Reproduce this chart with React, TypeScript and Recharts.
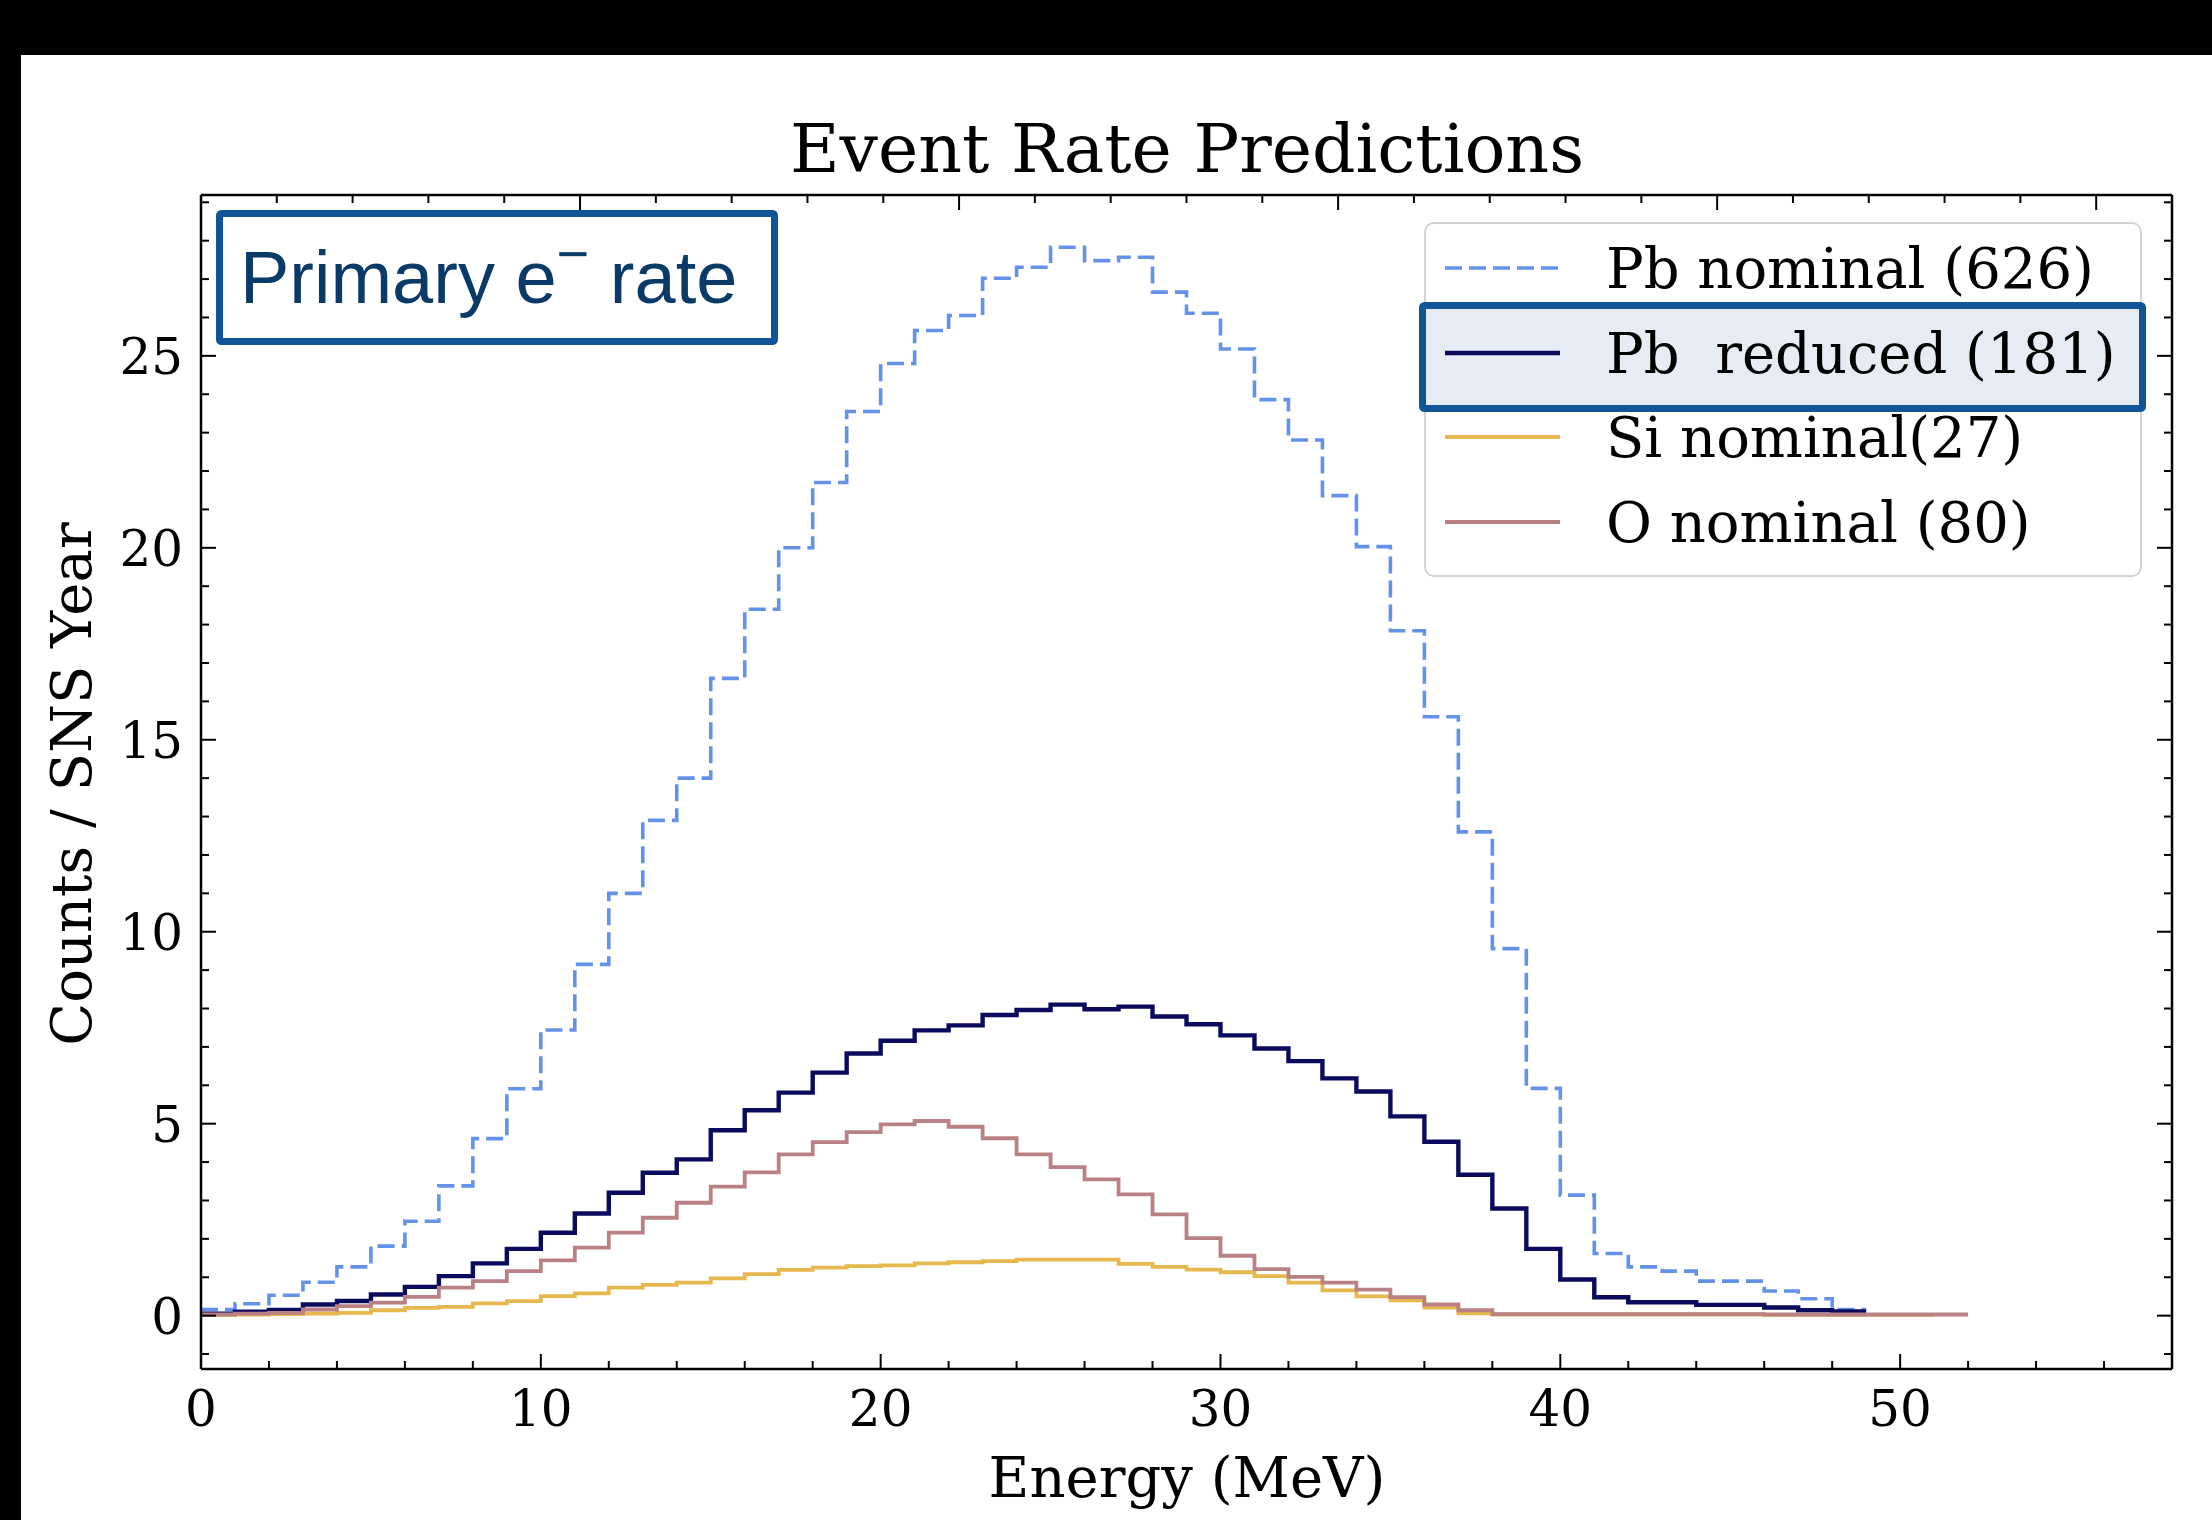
import React from 'react';
import { LineChart, Line, XAxis, YAxis } from 'recharts';

// lower bin edges (MeV), 1 MeV wide bins
const energyEdges = [
  0, 1, 2, 3, 4, 5, 6, 7, 8, 9, 10, 11, 12, 13, 14, 15, 16, 17, 18, 19, 20,
  21, 22, 23, 24, 25, 26, 27, 28, 29, 30, 31, 32, 33, 34, 35, 36, 37, 38, 39,
  40, 41, 42, 43, 44, 45, 46, 47, 48, 49, 50, 51, 52,
];

// counts per bin
const pbNominal = [
  0.16, 0.31, 0.53, 0.87, 1.27, 1.81, 2.46, 3.38, 4.61, 5.91,
  7.44, 9.15, 11.0, 12.9, 14.0, 16.6, 18.4, 20.0, 21.7, 23.55,
  24.8, 25.66, 26.05, 27.02, 27.31, 27.83, 27.48, 27.57, 26.66, 26.11,
  25.18, 23.86, 22.81, 21.36, 20.03, 17.84, 15.6, 12.6, 9.56, 5.92,
  3.14, 1.62, 1.27, 1.16, 0.9, 0.9, 0.64, 0.44, 0.16,
];
const pbReduced = [
  0.05, 0.1, 0.15, 0.29, 0.38, 0.55, 0.75, 1.03, 1.36, 1.74,
  2.16, 2.66, 3.2, 3.72, 4.07, 4.83, 5.35, 5.81, 6.33, 6.83,
  7.16, 7.43, 7.56, 7.83, 7.96, 8.1, 7.98, 8.05, 7.79, 7.59,
  7.3, 6.96, 6.63, 6.18, 5.84, 5.19, 4.53, 3.67, 2.79, 1.74,
  0.94, 0.48, 0.35, 0.35, 0.28, 0.28, 0.21, 0.14, 0.11,
];
const siNominal = [
  0.02, 0.03, 0.04, 0.05, 0.07, 0.14, 0.2, 0.23, 0.32, 0.38,
  0.51, 0.58, 0.73, 0.8, 0.86, 0.97, 1.08, 1.19, 1.25, 1.29,
  1.31, 1.36, 1.39, 1.42, 1.46, 1.46, 1.46, 1.35, 1.27, 1.2,
  1.13, 1.03, 0.86, 0.66, 0.5, 0.4, 0.21, 0.06, 0.03, 0.03,
  0.03, 0.03, 0.03, 0.03, 0.03, 0.03, 0.02, 0.02, 0.02, 0.02, 0.02,
];
const oNominal = [
  0.03, 0.05, 0.07, 0.16, 0.25, 0.34, 0.49, 0.73, 0.9, 1.16,
  1.44, 1.77, 2.16, 2.55, 2.94, 3.36, 3.73, 4.2, 4.52, 4.78,
  4.98, 5.07, 4.92, 4.62, 4.2, 3.87, 3.55, 3.16, 2.64, 2.02,
  1.56, 1.21, 1.01, 0.86, 0.68, 0.48, 0.29, 0.14, 0.04, 0.04,
  0.04, 0.04, 0.04, 0.04, 0.04, 0.04, 0.03, 0.03, 0.03, 0.03, 0.03, 0.03,
];

const seriesNames = ['Pb nominal (626)', 'Pb\u00a0 reduced (181)', 'Si nominal(27)', 'O nominal (80)'];

const xTicks = [
  0, 2, 4, 6, 8, 10, 12, 14, 16, 18, 20, 22, 24, 26, 28, 30, 32, 34, 36, 38,
  40, 42, 44, 46, 48, 50, 52, 54, 56,
];
const yTicks = [
  -1, 0, 1, 2, 3, 4, 5, 6, 7, 8, 9, 10, 11, 12, 13, 14, 15, 16, 17, 18, 19,
  20, 21, 22, 23, 24, 25, 26, 27, 28, 29,
];

const SERIF = '"DejaVu Serif", serif';

const series = [
  { key: 'pbNom', values: pbNominal, name: seriesNames[0], color: '#6492E8', width: 3.6, dash: '17 7' },
  { key: 'pbRed', values: pbReduced, name: seriesNames[1], color: '#0B0B5E', width: 4.4, dash: undefined },
  { key: 'si', values: siNominal, name: seriesNames[2], color: '#E6B84E', width: 3.8, dash: undefined },
  { key: 'o', values: oNominal, name: seriesNames[3], color: '#BA8184', width: 3.8, dash: undefined },
];

// step rows: value of bin i sits at its lower edge, last value repeated at the closing edge
const pick = (arr: number[], i: number) =>
  i < arr.length ? arr[i] : i === arr.length ? arr[arr.length - 1] : null;

const data = energyEdges.map((e, i) => {
  const row: any = { e };
  series.forEach((s) => {
    row[s.key] = pick(s.values, i);
  });
  return row;
});

const BottomTick = (props: any) => {
  const { x, y, payload } = props;
  const major = payload.value % 10 === 0;
  return (
    <g>
      <line x1={x} x2={x} y1={y} y2={y - (major ? 15 : 8)} stroke="#000" strokeWidth={2} />
      {major && (
        <text x={x} y={y + 57} textAnchor="middle" fontSize={50} fontFamily={SERIF} fill="#000">
          {payload.value}
        </text>
      )}
    </g>
  );
};

const TopTick = (props: any) => {
  const { x, y, payload } = props;
  const major = payload.value % 10 === 0;
  return <line x1={x} x2={x} y1={y} y2={y + (major ? 15 : 8)} stroke="#000" strokeWidth={2} />;
};

const LeftTick = (props: any) => {
  const { x, y, payload } = props;
  const major = payload.value % 5 === 0;
  return (
    <g>
      <line x1={x} x2={x + (major ? 15 : 8)} y1={y} y2={y} stroke="#000" strokeWidth={2} />
      {major && (
        <text x={x - 18} y={y + 18} textAnchor="end" fontSize={50} fontFamily={SERIF} fill="#000">
          {payload.value}
        </text>
      )}
    </g>
  );
};

const RightTick = (props: any) => {
  const { x, y, payload } = props;
  const major = payload.value % 5 === 0;
  return <line x1={x} x2={x - (major ? 15 : 8)} y1={y} y2={y} stroke="#000" strokeWidth={2} />;
};

const axisLine = { stroke: '#000', strokeWidth: 2.5 };

export default function App() {
  const rowY = [268, 353, 437, 522];
  return (
    <div style={{ position: 'absolute', left: 0, top: 0, width: 2212, height: 1520, background: '#000', overflow: 'hidden' }}>
      <div style={{ position: 'absolute', left: 21, top: 55, width: 2191, height: 1465, background: '#fff' }}>
        <LineChart width={2191} height={1465} data={data} margin={{ top: 139, right: 39, bottom: 150, left: 179 }}>
          <XAxis
            xAxisId="b"
            dataKey="e"
            type="number"
            domain={[0, 58]}
            allowDataOverflow
            ticks={xTicks}
            interval={0}
            height={1}
            tickSize={0}
            tickMargin={0}
            tickLine={false}
            axisLine={axisLine}
            tick={<BottomTick />}
          />
          <XAxis
            xAxisId="t"
            orientation="top"
            type="number"
            domain={[0, 58]}
            allowDataOverflow
            ticks={xTicks}
            interval={0}
            height={1}
            tickSize={0}
            tickMargin={0}
            tickLine={false}
            axisLine={axisLine}
            tick={<TopTick />}
          />
          <YAxis
            yAxisId="l"
            type="number"
            domain={[-1.39, 29.19]}
            allowDataOverflow
            ticks={yTicks}
            interval={0}
            width={1}
            tickSize={0}
            tickMargin={0}
            tickLine={false}
            axisLine={axisLine}
            tick={<LeftTick />}
          />
          <YAxis
            yAxisId="r"
            orientation="right"
            type="number"
            domain={[-1.39, 29.19]}
            allowDataOverflow
            ticks={yTicks}
            interval={0}
            width={1}
            tickSize={0}
            tickMargin={0}
            tickLine={false}
            axisLine={axisLine}
            tick={<RightTick />}
          />
          {series.map((s) => (
            <Line
              key={s.key}
              xAxisId="b"
              yAxisId="l"
              dataKey={s.key}
              type="stepAfter"
              stroke={s.color}
              strokeWidth={s.width}
              strokeDasharray={s.dash}
              dot={false}
              activeDot={false}
              connectNulls={false}
              isAnimationActive={false}
            />
          ))}
        </LineChart>
      </div>

      <svg
        width={2212}
        height={1520}
        style={{ position: 'absolute', left: 0, top: 0, pointerEvents: 'none' }}
      >
        <text x={1187} y={172} textAnchor="middle" fontSize={68} fontFamily={SERIF} fill="#000">
          Event Rate Predictions
        </text>
        <text x={1187} y={1497} textAnchor="middle" fontSize={56} fontFamily={SERIF} fill="#000">
          Energy (MeV)
        </text>
        <text
          x={91}
          y={784}
          textAnchor="middle"
          fontSize={56}
          fontFamily={SERIF}
          fill="#000"
          transform="rotate(-90 91 784)"
        >
          Counts / SNS Year
        </text>

        {/* annotation box */}
        <rect x={219.5} y={213.5} width={555} height={128} fill="#fff" stroke="#0F5597" strokeWidth={7} rx={2} />
        <text x={240} y={303} fontSize={74} fontFamily='"Liberation Sans", Arial, sans-serif' fill="#0A3A68">
          Primary e
          <tspan dy={-30} fontSize={56}>
            −
          </tspan>
          <tspan dy={30} fontSize={74}>
            {' rate'}
          </tspan>
        </text>

        {/* legend */}
        <rect x={1425} y={223} width={716} height={353} rx={9} fill="rgba(255,255,255,0.85)" stroke="#D4D4D4" strokeWidth={2} />
        <rect x={1422.5} y={305.5} width={720} height={103} fill="#E7ECF4" stroke="#0F5597" strokeWidth={7} rx={2} />
        {series.map((s, i) => (
          <g key={s.key}>
            <line
              x1={1445}
              x2={1560}
              y1={rowY[i]}
              y2={rowY[i]}
              stroke={s.color}
              strokeWidth={s.width}
              strokeDasharray={s.dash}
            />
            <text x={1606} y={rowY[i] + 20} fontSize={56} fontFamily={SERIF} fill="#000" style={{ whiteSpace: 'pre' }}>
              {s.name}
            </text>
          </g>
        ))}
      </svg>
    </div>
  );
}
